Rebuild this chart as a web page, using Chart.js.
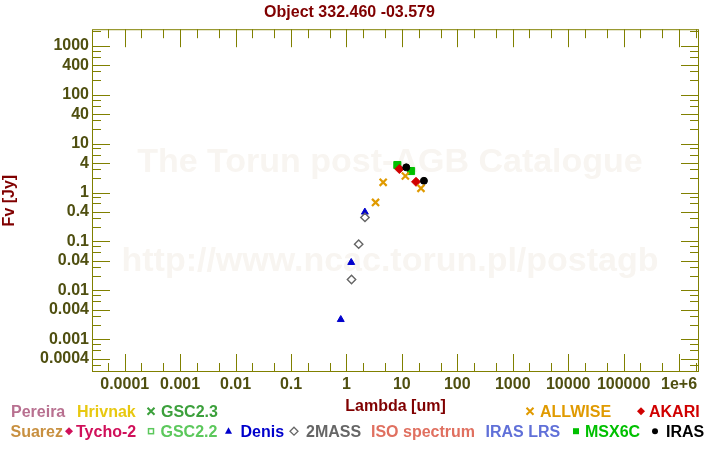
<!DOCTYPE html>
<html lang="en">
<head>
<meta charset="UTF-8">
<title>Object 332.460 -03.579</title>
<script src="https://cdn.jsdelivr.net/npm/chart.js"></script>
<style>
  body { margin: 0; background: #ffffff; }
</style>
</head>
<body>
<canvas id="sed" width="720" height="450"></canvas>
<script>
// photometry: wavelength [um] / flux [Jy]
const denisLambda = [0.79, 1.22, 2.15];
const denisFlux = [0.00253, 0.0372, 0.399];
const twomassLambda = [1.235, 1.662, 2.159];
const twomassFlux = [0.0167, 0.0881, 0.311];
const allwiseLambda = [3.35, 4.6, 11.56, 22.1];
const allwiseFlux = [0.63, 1.62, 2.18, 1.22];
const akariLambda = [9, 18];
const akariFlux = [3.03, 1.66];
const msxLambda = [8.28, 14.65];
const msxFlux = [3.66, 2.76];
const irasLambda = [12, 25];
const irasFlux = [3.28, 1.74];

// labelled ticks
const xTickValues = [1e-4, 1e-3, 1e-2, 0.1, 1, 10, 100, 1000, 1e4, 1e5, 1e6];
const xTickLabels = ['0.0001', '0.001', '0.01', '0.1', '1', '10', '100', '1000', '10000', '100000', '1e+6'];
const yTickValues = [1000, 400, 100, 40, 10, 4, 1, 0.4, 0.1, 0.04, 0.01, 0.004, 0.001, 0.0004];
const yTickLabels = ['1000', '400', '100', '40', '10', '4', '1', '0.4', '0.1', '0.04', '0.01', '0.004', '0.001', '0.0004'];
const xMinorSteps = [2, 5];
const yMinorSteps = [2, 3, 6, 8];

const xMin = Math.pow(10, -4.59), xMax = Math.pow(10, 6.36);
const yMin = Math.pow(10, -3.67), yMax = Math.pow(10, 3.342);

const FONT = 'Liberation Sans, Arial, sans-serif';
const axisColor = '#808000';
const labelColor = '#4f4f10';
const darkRed = '#800000';

function allTicks(majors, steps, lo, hi) {
  const out = majors.map(v => ({ value: v }));
  for (let e = -6; e <= 7; e++) {
    steps.forEach(s => {
      const v = s * Math.pow(10, e);
      if (v >= lo && v <= hi) out.push({ value: v });
    });
  }
  return out.filter(t => t.value >= lo && t.value <= hi).sort((a, b) => a.value - b.value);
}

function labelFor(values, labels, v) {
  const i = values.findIndex(m => Math.abs(Math.log10(m) - Math.log10(v)) < 1e-6);
  return i >= 0 ? labels[i] : '';
}

function pts(xs, ys) {
  return xs.map((x, i) => ({ x: x, y: ys[i] }));
}

// frame + inward tick marks on all four sides
const frameTicks = {
  id: 'frameTicks',
  afterDatasetsDraw(chart) {
    const { ctx, chartArea: a, scales: { x, y } } = chart;
    ctx.save();
    ctx.strokeStyle = axisColor;
    ctx.lineWidth = 1;
    ctx.strokeRect(a.left + 0.5, a.top + 0.5, a.right - a.left - 1, a.bottom - a.top - 1);
    ctx.beginPath();
    x.ticks.forEach(t => {
      const px = Math.round(x.getPixelForValue(t.value)) + 0.5;
      const len = t.label ? 18 : 9;
      ctx.moveTo(px, a.bottom); ctx.lineTo(px, a.bottom - len);
      ctx.moveTo(px, a.top); ctx.lineTo(px, a.top + len);
    });
    y.ticks.forEach(t => {
      const py = Math.round(y.getPixelForValue(t.value)) + 0.5;
      const len = t.label ? 18 : 9;
      ctx.moveTo(a.left, py); ctx.lineTo(a.left + len, py);
      ctx.moveTo(a.right, py); ctx.lineTo(a.right - len, py);
    });
    ctx.stroke();
    ctx.restore();
  }
};

const watermark = {
  id: 'watermark',
  beforeDatasetsDraw(chart) {
    const { ctx } = chart;
    ctx.save();
    ctx.fillStyle = '#f8f5f1';
    ctx.font = 'bold 34px ' + FONT;
    ctx.textAlign = 'center';
    ctx.textBaseline = 'middle';
    ctx.fillText('The Torun post-AGB Catalogue', 390, 163);
    ctx.fillText('http://www.ncac.torun.pl/postagb', 390, 262);
    ctx.restore();
  }
};

// legend of catalogues, two rows under the plot
const legendItems = [
  { text: 'Pereira', color: '#b87090', row: 0, x: 11 },
  { text: 'Hrivnak', color: '#e8c810', row: 0, x: 77 },
  { text: 'GSC2.3', color: '#3ca03c', row: 0, x: 161, sym: 'cross', sx: 151 },
  { text: 'ALLWISE', color: '#e09a00', row: 0, x: 540, sym: 'cross', sx: 530 },
  { text: 'AKARI', color: '#d00000', row: 0, x: 649, sym: 'diamond', sx: 641 },
  { text: 'Suarez', color: '#c89040', row: 1, x: 10.5 },
  { text: 'Tycho-2', color: '#d0105a', row: 1, x: 76, sym: 'diamond', sx: 69 },
  { text: 'GSC2.2', color: '#5cc85c', row: 1, x: 160.5, sym: 'square', sx: 151 },
  { text: 'Denis', color: '#0000cc', row: 1, x: 240.5, sym: 'triangle', sx: 228.5 },
  { text: '2MASS', color: '#666666', row: 1, x: 306, sym: 'odiamond', sx: 294 },
  { text: 'ISO spectrum', color: '#e07060', row: 1, x: 371 },
  { text: 'IRAS LRS', color: '#6070d8', row: 1, x: 485.5 },
  { text: 'MSX6C', color: '#00c000', row: 1, x: 585, sym: 'fsquare', sx: 576 },
  { text: 'IRAS', color: '#000000', row: 1, x: 666, sym: 'circle', sx: 655 }
];
const legendBaselines = [416.7, 436.7];

const catalogueLegend = {
  id: 'catalogueLegend',
  afterDraw(chart) {
    const { ctx } = chart;
    ctx.save();
    ctx.font = 'bold 16px ' + FONT;
    ctx.textBaseline = 'alphabetic';
    legendItems.forEach(it => {
      const base = legendBaselines[it.row];
      ctx.fillStyle = it.color;
      ctx.strokeStyle = it.color;
      ctx.fillText(it.text, it.x, base);
      if (!it.sym) return;
      const cy = base - 5.5, cx = it.sx;
      ctx.beginPath();
      if (it.sym === 'cross') {
        ctx.lineWidth = 2;
        ctx.moveTo(cx - 3.5, cy - 3.5); ctx.lineTo(cx + 3.5, cy + 3.5);
        ctx.moveTo(cx + 3.5, cy - 3.5); ctx.lineTo(cx - 3.5, cy + 3.5);
        ctx.stroke();
      } else if (it.sym === 'diamond' || it.sym === 'odiamond') {
        ctx.moveTo(cx, cy - 4); ctx.lineTo(cx + 4, cy); ctx.lineTo(cx, cy + 4); ctx.lineTo(cx - 4, cy);
        ctx.closePath();
        if (it.sym === 'diamond') ctx.fill(); else { ctx.lineWidth = 1.3; ctx.stroke(); }
      } else if (it.sym === 'square') {
        ctx.lineWidth = 1.5;
        ctx.strokeRect(cx - 2.5, cy - 2.5, 5, 5);
      } else if (it.sym === 'fsquare') {
        ctx.fillRect(cx - 3, cy - 3, 6, 6);
      } else if (it.sym === 'triangle') {
        ctx.moveTo(cx, cy - 4); ctx.lineTo(cx + 3.5, cy + 2.5); ctx.lineTo(cx - 3.5, cy + 2.5);
        ctx.closePath(); ctx.fill();
      } else if (it.sym === 'circle') {
        ctx.arc(cx, cy, 3, 0, Math.PI * 2); ctx.fill();
      }
    });
    ctx.restore();
  }
};

new Chart(document.getElementById('sed'), {
  type: 'scatter',
  data: {
    datasets: [
      { label: 'ALLWISE', data: pts(allwiseLambda, allwiseFlux), pointStyle: 'crossRot',
        borderColor: '#e09a00', backgroundColor: '#e09a00', borderWidth: 2.2, pointRadius: 5 },
      { label: 'IRAS', data: pts(irasLambda, irasFlux), pointStyle: 'circle',
        borderColor: '#000000', backgroundColor: '#000000', borderWidth: 1, pointRadius: 3.5 },
      { label: 'AKARI', data: pts(akariLambda, akariFlux), pointStyle: 'rectRot',
        borderColor: '#d00000', backgroundColor: '#d00000', borderWidth: 1, pointRadius: 4.5 },
      { label: 'MSX6C', data: pts(msxLambda, msxFlux), pointStyle: 'rect',
        borderColor: '#00c000', backgroundColor: '#00c000', borderWidth: 1, pointRadius: 5 },
      { label: '2MASS', data: pts(twomassLambda, twomassFlux), pointStyle: 'rectRot',
        borderColor: '#666666', backgroundColor: 'rgba(255,255,255,0)', borderWidth: 1.4, pointRadius: 4.2 },
      { label: 'Denis', data: pts(denisLambda, denisFlux), pointStyle: 'triangle',
        borderColor: '#0000cc', backgroundColor: '#0000cc', borderWidth: 1, pointRadius: 4 }
    ]
  },
  options: {
    responsive: false,
    animation: false,
    layout: { padding: { left: 0, right: 21, top: 0, bottom: 34 } },
    plugins: {
      legend: { display: false },
      tooltip: { enabled: false },
      title: {
        display: true,
        text: 'Object 332.460 -03.579',
        color: darkRed,
        font: { family: FONT, size: 16, weight: 'bold' },
        padding: { top: 3, bottom: 7 }
      }
    },
    scales: {
      x: {
        type: 'logarithmic',
        min: xMin,
        max: xMax,
        grid: { display: false, drawTicks: false },
        border: { display: false },
        afterBuildTicks: s => { s.ticks = allTicks(xTickValues, xMinorSteps, xMin, xMax); },
        afterFit: s => { s.height = 44; },
        ticks: {
          autoSkip: false, maxRotation: 0, padding: 3, color: labelColor,
          font: { family: FONT, size: 16, weight: 'bold' },
          callback: v => labelFor(xTickValues, xTickLabels, v)
        },
        title: {
          display: true, text: 'Lambda [um]', color: darkRed, padding: 0,
          font: { family: FONT, size: 16, weight: 'bold' }
        }
      },
      y: {
        type: 'logarithmic',
        min: yMin,
        max: yMax,
        grid: { display: false, drawTicks: false },
        border: { display: false },
        afterBuildTicks: s => { s.ticks = allTicks(yTickValues, yMinorSteps, yMin, yMax); },
        afterFit: s => { s.width = 92; },
        ticks: {
          autoSkip: false, padding: 3, color: labelColor,
          font: { family: FONT, size: 16, weight: 'bold' },
          callback: v => labelFor(yTickValues, yTickLabels, v)
        },
        title: {
          display: true, text: 'Fv [Jy]', color: darkRed, padding: 0,
          font: { family: FONT, size: 16, weight: 'bold' }
        }
      }
    }
  },
  plugins: [watermark, frameTicks, catalogueLegend]
});
</script>
</body>
</html>
